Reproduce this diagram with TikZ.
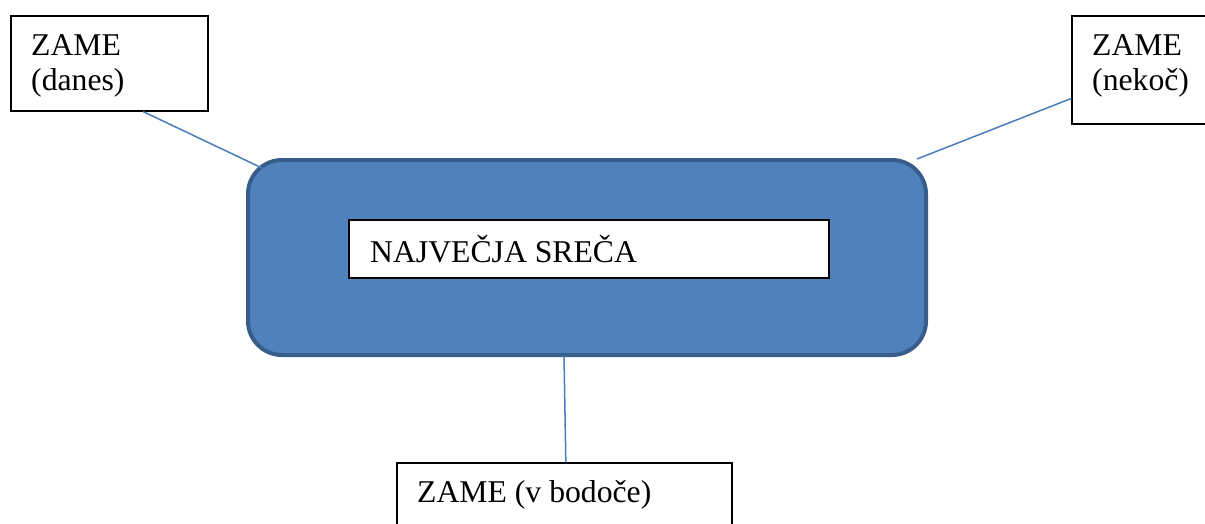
\documentclass[tikz,border=0pt]{standalone}
\usepackage{fontspec}
\setmainfont{Liberation Serif}
\usetikzlibrary{calc}
\definecolor{mainfill}{HTML}{4F81BD}
\definecolor{mainedge}{HTML}{385D8A}
\definecolor{linkcol}{HTML}{4A7EBB}
\tikzset{
  txtbox/.style={draw=black, line width=1.2pt, fill=white, inner sep=0pt},
  lbl/.style={anchor=base west, inner sep=0pt, font=\fontsize{31.7}{38}\selectfont},
  link/.style={draw=linkcol, line width=1.5pt},
}
\begin{document}
\begin{tikzpicture}[x=1pt,y=-1pt]
\useasboundingbox (0,0) rectangle (1205,523);
% main rounded box
\draw[fill=mainfill, draw=mainedge, line width=4pt, rounded corners=34pt] (248,160) rectangle (926,355);
\node[draw=none, minimum width=678pt, minimum height=195pt, inner sep=0pt] (main) at (587,257.5) {};
% inner box
\node[txtbox, minimum width=480pt, minimum height=58pt] (inner) at (589,249) {};
\node[lbl] (innert) at (370,262) {NAJVEČJA SREČA};
% boxes
\node[txtbox, minimum width=197pt, minimum height=95pt] (danes) at (109.5,63.5) {};
\node[lbl] at (31,55) {ZAME};
\node[lbl] at (31,90) {(danes)};
\node[txtbox, minimum width=160pt, minimum height=108pt] (nekoc) at (1152,70) {};
\node[lbl] at (1092,55) {ZAME};
\node[lbl] at (1092,90) {(nekoč)};
\node[txtbox, minimum width=335pt, minimum height=100pt] (bodoce) at (564.5,513) {};
\node[lbl] at (417,502) {ZAME (v bodoče)};
% connector ends
\coordinate (m1) at (262,168);
\coordinate (m2) at (917,159);
\coordinate (m3) at (564,356);
\coordinate (d1) at ($(danes.south west)!0.67!(danes.south east)$);
\coordinate (n1) at ($(nekoc.north west)!0.76!(nekoc.south west)$);
\coordinate (b1) at ($(bodoce.north west)!0.504!(bodoce.north east)$);
\draw[link] (d1) -- (m1);
\draw[link] (m2) -- (n1);
\draw[link] (m3) -- (b1);
\end{tikzpicture}
\end{document}
